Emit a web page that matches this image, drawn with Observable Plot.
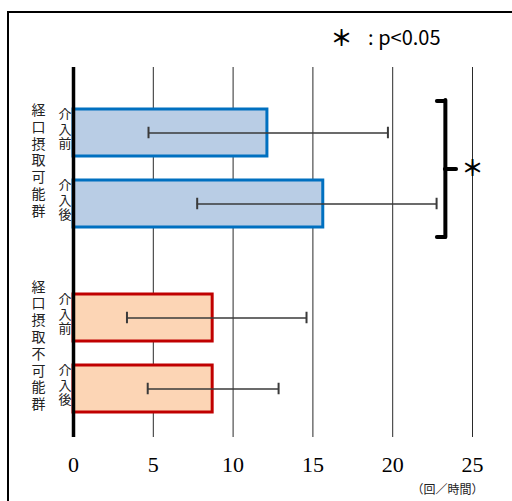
<!DOCTYPE html>
<html><head><meta charset="utf-8">
<script src="https://cdn.jsdelivr.net/npm/d3@7"></script>
<script src="https://cdn.jsdelivr.net/npm/@observablehq/plot@0.6"></script>
<style>
html,body{margin:0;padding:0;background:#fff;overflow:hidden;}
#wrap{position:relative;width:512px;height:501px;overflow:hidden;background:#fff;}
#wrap svg{position:absolute;left:0;top:0;}
#border{position:absolute;left:7px;top:11px;width:600px;height:600px;border-left:2px solid #000;border-top:2px solid #000;pointer-events:none;}
</style></head><body>
<div id="wrap"><div id="border"></div></div>
<script>
// ---- data ----
const groups = ["経口摂取可能群", "経口摂取不可能群"];
const phases = ["介入前", "介入後"];
const barGroup = [groups[0], groups[0], groups[1], groups[1]];
const barPhase = [phases[0], phases[1], phases[0], phases[1]];
const means  = [12.15, 15.65, 8.72, 8.72];
const errLow = [4.7, 7.75, 3.35, 4.65];
const errHigh = [19.7, 22.75, 14.6, 12.85];
const xTicks = [0, 5, 10, 15, 20, 25];
const unitLabel = "（回／時間）";
const sigMark = "＊";
const sigNoteText = ": p<0.05";
const sigBracket = [{group: groups[0], x: 23.3, hookX: 22.8, nubX: 24.0, starX: 25}];
const strokeColors = ["#0070C0", "#C00000"];
const fillColors = ["#B9CDE5", "#FCD5B5"];

const data = means.map((m, i) => ({group: barGroup[i], phase: barPhase[i], mean: m, lo: errLow[i], hi: errHigh[i]}));
const cjk = "Noto Sans CJK JP";

const chart = Plot.plot({
  width: 512,
  height: 501,
  marginLeft: 73,
  marginRight: 40,
  marginTop: 67,
  marginBottom: 64,
  style: {fontFamily: cjk, background: "transparent"},
  x: {domain: [0, 25]},
  y: {domain: phases, paddingInner: 0.345, paddingOuter: 0.475, align: 0.627, axis: null},
  fy: {domain: groups, padding: 0, axis: null},
  marks: [
    Plot.ruleX(xTicks.slice(1), {stroke: "#2a2a2a", strokeWidth: 1}),
    ...groups.map((g, gi) => Plot.barX(data.filter(d => d.group === g), {
      x: "mean", y: "phase", fy: "group",
      fill: fillColors[gi], stroke: strokeColors[gi], strokeWidth: 3
    })),
    Plot.ruleY(data, {x1: "lo", x2: "hi", y: "phase", fy: "group", stroke: "#3a3a3a", strokeWidth: 1.5}),
    Plot.tickX(data, {x: "lo", y: "phase", fy: "group", stroke: "#3a3a3a", strokeWidth: 2, insetTop: 17.75, insetBottom: 17.75}),
    Plot.tickX(data, {x: "hi", y: "phase", fy: "group", stroke: "#3a3a3a", strokeWidth: 2, insetTop: 17.75, insetBottom: 17.75}),
    Plot.ruleX([0], {stroke: "#000", strokeWidth: 3.5}),
    Plot.ruleY([groups[1]], {fy: d => d, dy: 92.5, stroke: "#000", strokeWidth: 3.5, strokeLinecap: "square"}),
    // significance bracket
    Plot.ruleX(sigBracket, {x: "x", y1: () => phases[0], y2: () => phases[1], fy: "group", insetTop: -9, insetBottom: -10, stroke: "#000", strokeWidth: 4, strokeLinecap: "round"}),
    Plot.ruleY(sigBracket, {x1: "hookX", x2: "x", y: () => phases[0], fy: "group", dy: -32, stroke: "#000", strokeWidth: 4, strokeLinecap: "round"}),
    Plot.ruleY(sigBracket, {x1: "hookX", x2: "x", y: () => phases[1], fy: "group", dy: 33, stroke: "#000", strokeWidth: 4, strokeLinecap: "round"}),
    Plot.ruleY(sigBracket, {x1: "x", x2: "nubX", y: () => phases[0], fy: "group", dy: 36, stroke: "#000", strokeWidth: 4, strokeLinecap: "round"}),
    Plot.text(sigBracket, {x: "starX", y: () => phases[0], fy: "group", dy: 36, text: () => sigMark, fontSize: 22, fontWeight: "bold", fill: "#000"}),
    // labels
    Plot.text(groups, {fy: d => d, text: d => [...d].join("\n"), frameAnchor: "left", dx: -42, fontSize: 14, lineHeight: 1.2, fill: "#222"}),
    Plot.text(data, {fy: "group", y: "phase", text: d => [...d.phase].join("\n"), frameAnchor: "left", dx: -15, dy: -4, fontSize: 13, lineHeight: 1.1, fill: "#222"}),
    Plot.text([groups[0]], {fy: d => d, frameAnchor: "top-right", text: () => sigMark, textAnchor: "middle", lineAnchor: "middle", dx: -131, dy: -29, fontSize: 22, fontWeight: "bold", fill: "#000"}),
    Plot.text([groups[0]], {fy: d => d, frameAnchor: "top-right", text: () => sigNoteText, textAnchor: "end", lineAnchor: "middle", dx: -32, dy: -29, fontSize: 20, fill: "#000"}),
    Plot.text([groups[1]], {fy: d => d, frameAnchor: "bottom-right", text: () => unitLabel, textAnchor: "end", lineAnchor: "middle", dx: 11, dy: 53, fontSize: 12, fill: "#222"}),
    Plot.axisX(xTicks, {tickSize: 0, tickPadding: 19, fontSize: 22, fontFamily: "Liberation Serif", label: null, fill: "#000"})
  ]
});
document.getElementById("wrap").insertBefore(chart, document.getElementById("border"));
</script>
</body></html>
